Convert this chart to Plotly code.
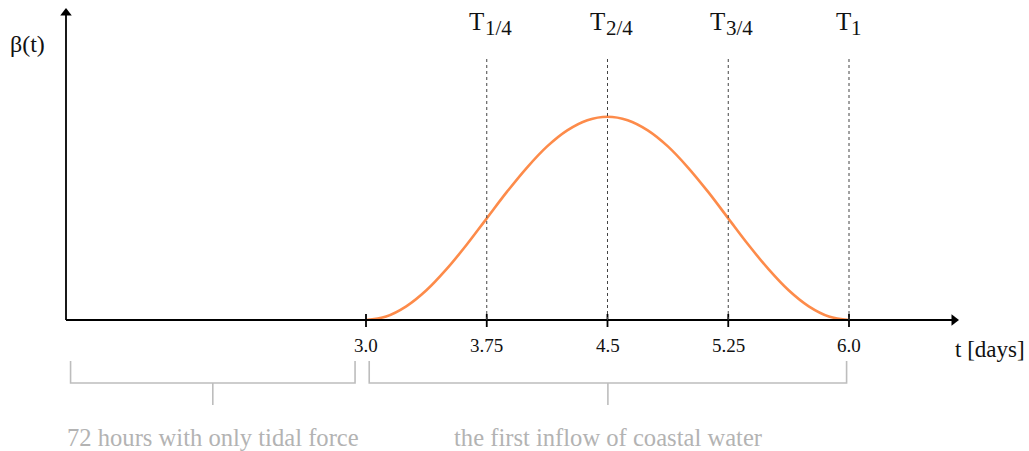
import plotly.graph_objects as go

# Inflow weight beta(t) over the first inflow window (days)
t_days = [3.0, 3.125, 3.25, 3.375, 3.5, 3.625, 3.75, 3.875, 4.0, 4.125, 4.25, 4.375, 4.5,
          4.625, 4.75, 4.875, 5.0, 5.125, 5.25, 5.375, 5.5, 5.625, 5.75, 5.875, 6.0]
beta = [0.0, 0.017, 0.067, 0.146, 0.25, 0.37, 0.5, 0.63, 0.75, 0.854, 0.933, 0.983, 1.0,
        0.983, 0.933, 0.854, 0.75, 0.63, 0.5, 0.37, 0.25, 0.146, 0.067, 0.017, 0.0]

tick_vals = [3.0, 3.75, 4.5, 5.25, 6.0]
tick_text = ["3.0", "3.75", "4.5", "5.25", "6.0"]
quarter_labels = ["1/4", "2/4", "3/4", "1"]

# Time spans annotated under the axis
spans = [(1.165, 2.932, "72 hours with only tidal force"),
         (3.02, 5.985, "the first inflow of coastal water")]

W, H = 1029, 451
PX_PER_DAY = 161.0
PX_PER_UNIT = 203.3
X0_PX, Y0_PX = 366.0, 320.0  # pixel position of (t=3.0, beta=0)


def tx(px):
    return 3.0 + (px - X0_PX) / PX_PER_DAY


def vy(py):
    return (Y0_PX - py) / PX_PER_UNIT


SERIF = "Liberation Serif, Times New Roman, serif"
GREY = "#bdbdbd"
GREY_TXT = "#b3b3b3"
INK = "#111111"

t_start = tx(66)

fig = go.Figure()

shapes = []
annotations = []

# axis lines
shapes.append(dict(type="line", x0=t_start, x1=tx(952), y0=0, y1=0, xref="x", yref="y",
                   line=dict(color="black", width=1.8)))
shapes.append(dict(type="line", x0=t_start, x1=t_start, y0=0, y1=vy(14), xref="x", yref="y",
                   line=dict(color="black", width=1.8)))

# ticks and labels
for v, lab in zip(tick_vals, tick_text):
    shapes.append(dict(type="line", x0=v, x1=v, y0=vy(314), y1=vy(327),
                       xref="x", yref="y", line=dict(color="black", width=1.8)))
    annotations.append(dict(x=v, y=vy(345), text=lab, showarrow=False,
                            xref="x", yref="y", xanchor="center", yanchor="middle",
                            font=dict(family=SERIF, size=19, color=INK)))

# quarter markers: dotted guide, "T" and its subscript
for v, q in zip(tick_vals[1:], quarter_labels):
    shapes.append(dict(type="line", x0=v, x1=v, y0=0, y1=vy(57), xref="x", yref="y",
                       line=dict(color="#444", width=1, dash="dot")))
    narrow = len(q) == 1
    annotations.append(dict(
        x=v, y=vy(21), xref="x", yref="y", showarrow=False, text="T",
        xanchor="right", yanchor="middle", xshift=3 if narrow else -2,
        borderpad=0, font=dict(family=SERIF, size=25, color=INK)))
    annotations.append(dict(
        x=v, y=vy(28), xref="x", yref="y", showarrow=False, text=q,
        xanchor="left", yanchor="middle", xshift=1 if narrow else -3,
        borderpad=0, font=dict(family=SERIF, size=21, color=INK)))

# axis titles
annotations.append(dict(x=tx(27), y=vy(44), text="β(t)", showarrow=False,
                        xref="x", yref="y", font=dict(family=SERIF, size=24, color=INK)))
annotations.append(dict(x=tx(990), y=vy(349), text="t [days]", showarrow=False,
                        xref="x", yref="y", font=dict(family=SERIF, size=23, color=INK)))

# span brackets
for a, b, lab in spans:
    mid = (a + b) / 2
    shapes.append(dict(type="path",
                       path=f"M {a},{vy(361)} L {a},{vy(383)} L {b},{vy(383)} L {b},{vy(361)}",
                       xref="x", yref="y", line=dict(color=GREY, width=1.6)))
    shapes.append(dict(type="line", x0=mid, x1=mid, y0=vy(383), y1=vy(405),
                       xref="x", yref="y", line=dict(color=GREY, width=1.6)))
    annotations.append(dict(x=mid, y=vy(437), text=lab, showarrow=False,
                            xref="x", yref="y", xanchor="center", yanchor="middle",
                            font=dict(family=SERIF, size=24.6, color=GREY_TXT)))

# beta(t) curve
fig.add_trace(go.Scatter(
    x=t_days, y=beta, mode="lines",
    line=dict(color="#fd8b4a", width=2.6, shape="spline", smoothing=1.0),
    hoverinfo="skip", showlegend=False,
))

# arrow heads at the ends of both axes
fig.add_trace(go.Scatter(
    x=[tx(954), t_start], y=[0, vy(13)], mode="markers",
    marker=dict(symbol=["triangle-right", "triangle-up"], size=10, color="black",
                line=dict(width=0)),
    hoverinfo="skip", showlegend=False,
))

fig.update_layout(
    width=W, height=H,
    margin=dict(l=0, r=0, t=0, b=0),
    paper_bgcolor="white", plot_bgcolor="white",
    xaxis=dict(range=[tx(0), tx(W)], visible=False, fixedrange=True),
    yaxis=dict(range=[vy(H), vy(0)], visible=False, fixedrange=True),
    shapes=shapes, annotations=annotations,
)

fig.write_html("out.html", config={"displayModeBar": False})
